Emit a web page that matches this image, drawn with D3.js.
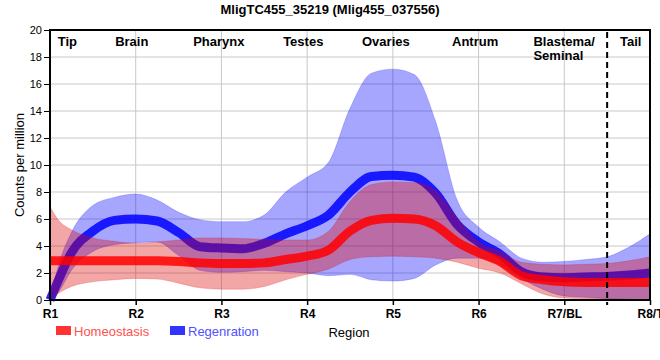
<!DOCTYPE html>
<html><head><meta charset="utf-8">
<script src="https://cdn.jsdelivr.net/npm/d3@7"></script>
<style>
body{margin:0;background:#fff;}
text{font-family:"Liberation Sans",Arial,sans-serif;}
</style></head>
<body><svg id="c" width="660" height="360"></svg>
<script>
// ---- data ----
const title = "MligTC455_35219 (Mlig455_037556)";
const regionTicks = ["R1","R2","R3","R4","R5","R6","R7/BL","R8/T"];
const regionNames = ["Tip","Brain","Pharynx","Testes","Ovaries","Antrum","Blastema/\nSeminal","Tail"];
const yTicks = [0,2,4,6,8,10,12,14,16,18,20];
// positions along the region axis (0 = R1 ... 7 = R8/T)
const xs = [0,0.1,0.25,0.5,0.75,1,1.25,1.5,1.75,2,2.25,2.5,2.75,3,3.25,3.5,3.75,4,4.25,4.5,4.75,5,5.25,5.5,5.75,6,6.25,6.5,6.75,7];
const homeoMean = [2.9,2.9,2.9,2.9,2.9,2.9,2.9,2.85,2.75,2.7,2.7,2.75,3.0,3.25,3.7,5.1,5.9,6.05,6.0,5.5,4.3,3.5,2.85,1.8,1.5,1.35,1.3,1.3,1.3,1.3];
const homeoLow  = [0,0.5,1.0,1.35,1.5,1.6,1.55,1.25,0.9,0.8,0.8,1.0,1.5,1.9,2.3,3.0,3.2,3.25,3.2,3.1,2.8,2.35,2.0,1.2,0.45,0.15,0.1,0.05,0.02,0];
const homeoHigh = [6.9,5.9,5.2,4.6,4.35,4.2,4.3,4.45,4.6,4.6,4.55,4.5,4.45,4.45,5.1,7.3,8.55,8.75,8.7,8.1,6.1,4.3,3.6,2.8,2.65,2.6,2.65,2.7,2.9,3.2];
const regenMean = [0,1.5,3.5,5.1,5.9,6.0,5.85,5.0,3.95,3.85,3.8,4.2,4.9,5.5,6.3,8.0,9.15,9.25,9.1,7.9,5.6,4.3,3.4,2.1,1.7,1.65,1.7,1.75,1.85,2.0];
const regenLow  = [0,0.6,2.2,3.6,4.1,4.25,4.3,3.3,2.2,2.05,2.1,2.2,2.1,2.0,1.8,1.9,1.5,1.4,1.6,2.6,3.1,3.1,2.6,1.6,0.8,0.3,0.2,0.1,0.05,0];
const regenHigh = [0,2.6,5.0,7.0,7.6,7.85,7.4,6.5,5.95,5.8,5.8,6.3,8.0,9.1,10.2,14.2,16.8,17.1,16.7,13.2,7.4,5.4,4.3,3.1,2.8,2.85,3.0,3.2,3.9,4.9];
const seriesNames = ["Homeostasis","Regenration"];
const tailBoundary = 6.5;

// ---- layout ----
const svg = d3.select("#c");
const L=50,R=650,T=30,B=300;
const x = d3.scaleLinear().domain([0,7]).range([L,R]);
const y = d3.scaleLinear().domain([0,20]).range([B,T]);
const labelX = [0.09,0.76,1.67,2.72,3.64,4.69,5.64,6.65];

// grid
const g = svg.append("g");
g.selectAll("line.h").data(yTicks.filter(v=>v>0&&v<20)).enter().append("line")
 .attr("x1",L).attr("x2",R).attr("y1",d=>y(d)).attr("y2",d=>y(d))
 .attr("stroke","#c8c8c8").attr("stroke-width",1);
g.selectAll("line.v").data(d3.range(1,7)).enter().append("line")
 .attr("x1",d=>x(d)).attr("x2",d=>x(d)).attr("y1",T).attr("y2",B)
 .attr("stroke","#c8c8c8").attr("stroke-width",1);

const idx = d3.range(xs.length);
const band = (lo,hi)=>d3.area().x(i=>x(xs[i])).y0(i=>y(lo[i])).y1(i=>y(hi[i])).curve(d3.curveMonotoneX);
const line = (m)=>d3.line().x(i=>x(xs[i])).y(i=>y(m[i])).curve(d3.curveMonotoneX);

svg.append("path").attr("d",band(regenLow,regenHigh)(idx)).attr("fill","#0000ff").attr("fill-opacity",0.35)
 .attr("stroke","#0000ff").attr("stroke-opacity",0.2);
svg.append("path").attr("d",line(regenMean)(idx)).attr("fill","none").attr("stroke","#0000ff")
 .attr("stroke-opacity",0.85).attr("stroke-width",9);
svg.append("path").attr("d",band(homeoLow,homeoHigh)(idx)).attr("fill","#dc0000").attr("fill-opacity",0.35)
 .attr("stroke","#dc0000").attr("stroke-opacity",0.2);
svg.append("path").attr("d",line(homeoMean)(idx)).attr("fill","none").attr("stroke","#ff0000")
 .attr("stroke-opacity",0.85).attr("stroke-width",9);

// axes
const ya = svg.append("g").attr("transform",`translate(${L},0)`)
 .call(d3.axisLeft(y).tickValues(yTicks).tickSize(6).tickPadding(2));
ya.select(".domain").remove();
ya.selectAll(".tick line").attr("stroke","#000").attr("stroke-width",1);
ya.selectAll(".tick text").attr("font-size",11).attr("fill","#000").attr("font-family","Liberation Sans, Arial");
const xa = svg.append("g").attr("transform",`translate(0,${B})`)
 .call(d3.axisBottom(x).tickValues(d3.range(8)).tickFormat(i=>regionTicks[i]).tickSize(5).tickPadding(4));
xa.select(".domain").remove();
xa.selectAll(".tick line").attr("stroke","#000").attr("stroke-width",1.5);
xa.selectAll(".tick text").attr("font-size",12).attr("font-weight","bold").attr("fill","#000").attr("font-family","Liberation Sans, Arial");

// frame
svg.append("rect").attr("x",L).attr("y",T).attr("width",R-L).attr("height",B-T)
 .attr("fill","none").attr("stroke","#000").attr("stroke-width",2);

// dashed boundary
svg.append("line").attr("x1",x(tailBoundary)).attr("x2",x(tailBoundary)).attr("y1",T+2).attr("y2",B+5)
 .attr("stroke","#000").attr("stroke-width",2).attr("stroke-dasharray","6,4");

// region names
regionNames.forEach((n,i)=>{
  const t = svg.append("text").attr("x",x(labelX[i])).attr("y",T+16)
   .attr("font-size",13).attr("font-weight","bold").attr("fill","#000");
  n.split("\n").forEach((s,k)=>t.append("tspan").attr("x",x(labelX[i])).attr("dy",k?14:0).text(s));
});

// title
svg.append("text").attr("x",330).attr("y",14).attr("text-anchor","middle")
 .attr("font-size",13).attr("font-weight","bold").text(title);

// y label
svg.append("text").attr("transform","translate(24,165) rotate(-90)").attr("text-anchor","middle")
 .attr("font-size",13).text("Counts per million");
// x label
svg.append("text").attr("x",349).attr("y",337).attr("text-anchor","middle").attr("font-size",13).text("Region");

// legend
const leg = [{n:seriesNames[0],c:"#ff3333",t:"#ff5050",x:56},{n:seriesNames[1],c:"#3333ff",t:"#5050ff",x:170}];
leg.forEach(d=>{
  svg.append("rect").attr("x",d.x).attr("y",326).attr("width",15).attr("height",9).attr("fill",d.c);
  svg.append("text").attr("x",d.x+18).attr("y",336).attr("font-size",13).attr("fill",d.t).text(d.n);
});
</script></body></html>
